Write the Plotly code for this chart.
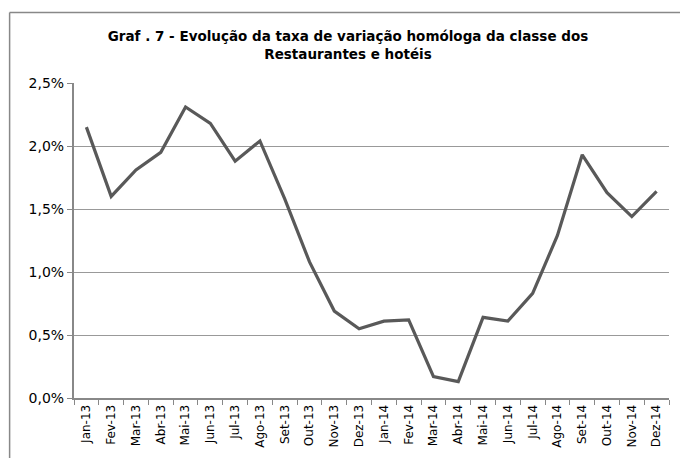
import plotly.graph_objects as go

months = ["Jan-13", "Fev-13", "Mar-13", "Abr-13", "Mai-13", "Jun-13", "Jul-13", "Ago-13",
          "Set-13", "Out-13", "Nov-13", "Dez-13", "Jan-14", "Fev-14", "Mar-14", "Abr-14",
          "Mai-14", "Jun-14", "Jul-14", "Ago-14", "Set-14", "Out-14", "Nov-14", "Dez-14"]
taxa = [2.15, 1.60, 1.81, 1.95, 2.31, 2.18, 1.88, 2.04,
        1.58, 1.08, 0.69, 0.55, 0.61, 0.62, 0.17, 0.13,
        0.64, 0.61, 0.83, 1.29, 1.93, 1.63, 1.44, 1.64]
ytick_vals = [0, 0.5, 1.0, 1.5, 2.0, 2.5]
ytick_text = ["0,0%", "0,5%", "1,0%", "1,5%", "2,0%", "2,5%"]
title = "Graf . 7 - Evolução da taxa de variação homóloga da classe dos<br>Restaurantes e hotéis"

W, H = 680, 458
L, R, T, B = 73.5, 10.5, 83, 58
pw, ph = W - L - R, H - T - B

fig = go.Figure()
fig.add_trace(go.Scatter(x=months, y=taxa, mode="lines",
                         line=dict(color="#595959", width=3.2), showlegend=False))

fig.update_layout(
    width=W, height=H,
    margin=dict(l=L, r=R, t=T, b=B),
    paper_bgcolor="white", plot_bgcolor="white",
    font=dict(family="DejaVu Sans", color="black"),
    title=dict(text="<b>" + title + "</b>", x=348 / W, xanchor="center",
               y=1 - 41 / H, yanchor="top", font=dict(size=13.5, family="DejaVu Sans")),
    xaxis=dict(type="category", showgrid=False, showline=True, linecolor="#888888", linewidth=2,
               ticks="outside", tickson="boundaries", ticklen=5, tickcolor="#888888",
               tickangle=-90, tickfont=dict(size=12, family="DejaVu Sans"),
               range=[-0.5, 23.5]),
    yaxis=dict(range=[0, 2.5], tickvals=ytick_vals, ticktext=ytick_text,
               showgrid=True, gridcolor="#999999", gridwidth=1,
               showline=True, linecolor="#888888", linewidth=2,
               ticks="outside", ticklen=5, tickcolor="#888888",
               tickfont=dict(size=14, family="DejaVu Sans"), zeroline=False),
)

# outer chart border (left and top edges; right/bottom lie outside the window)
bx = (9 - L) / pw
by = 1 + (T - 12) / ph
fig.add_shape(type="line", xref="paper", yref="paper", x0=bx, x1=bx, y0=by, y1=-(B + 20) / ph,
              line=dict(color="#888888", width=1.5), layer="above")
fig.add_shape(type="line", xref="paper", yref="paper", x0=bx, x1=(W + 20 - L) / pw, y0=by, y1=by,
              line=dict(color="#888888", width=1.5), layer="above")

fig.write_html("out.html", post_script="document.body.style.margin='0';",
               config={"displayModeBar": False})
